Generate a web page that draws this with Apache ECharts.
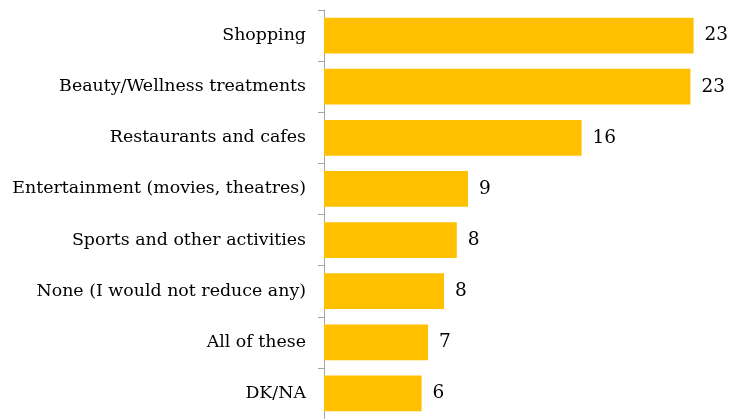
<!DOCTYPE html>
<html>
<head>
<meta charset="utf-8">
<script src="https://cdn.jsdelivr.net/npm/echarts@6/dist/echarts.min.js"></script>
<style>html,body{margin:0;padding:0;background:#fff;}#c{width:731px;height:419px;}</style>
</head>
<body>
<div id="c"></div>
<script>
var categories = ["Shopping", "Beauty/Wellness treatments", "Restaurants and cafes", "Entertainment (movies, theatres)", "Sports and other activities", "None (I would not reduce any)", "All of these", "DK/NA"];
var values = [23.1, 22.9, 16.1, 9.0, 8.3, 7.5, 6.5, 6.1];
var valueLabels = ["23", "23", "16", "9", "8", "8", "7", "6"];

var chart = echarts.init(document.getElementById('c'), null, {renderer: 'canvas'});
chart.setOption({
  animation: false,
  grid: {left: 324, width: 400, top: 10, height: 411, containLabel: false},
  xAxis: {type: 'value', min: 0, max: 25, show: false},
  yAxis: {
    type: 'category', data: categories, inverse: true,
    axisLine: {show: true, lineStyle: {color: '#A6A6A6', width: 1}},
    axisTick: {show: true, length: 6, lineStyle: {color: '#A6A6A6'}},
    axisLabel: {margin: 18, color: '#000', fontFamily: 'DejaVu Serif', fontSize: 17.4}
  },
  series: [{
    type: 'bar', data: values, barCategoryGap: '30%',
    itemStyle: {color: '#FFC000'},
    label: {show: true, position: 'right', distance: 11, color: '#000', fontFamily: 'DejaVu Serif', fontSize: 18.5,
      formatter: function(p){ return valueLabels[p.dataIndex]; }}
  }]
});
</script>
</body>
</html>
